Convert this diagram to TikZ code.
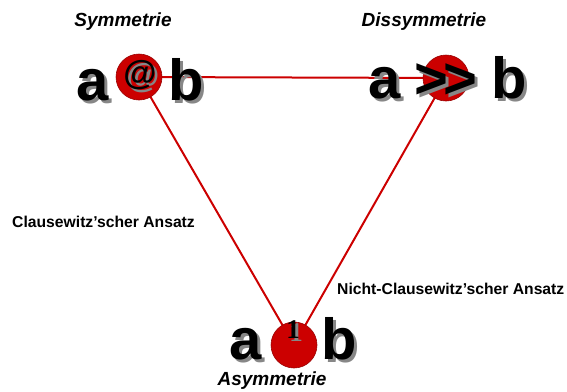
\documentclass[tikz,border=0pt]{standalone}
\usepackage{fontspec}
\setmainfont{Liberation Sans}
\newfontfamily\serifone{Liberation Serif}
\usetikzlibrary{backgrounds}

\definecolor{ballred}{RGB}{204,0,0}
\definecolor{shadowgray}{RGB}{135,135,135}
% letter with a grey drop shadow
\newcommand{\shadowed}[1]{\makebox[0pt][l]{\hspace{3pt}\raisebox{-3pt}{\textcolor{shadowgray}{#1}}}#1}

\begin{document}
\begin{tikzpicture}[x=1pt,y=-1pt,
    ball/.style={circle, fill=ballred, draw=ballred!75!black, line width=0.6pt,
      minimum size=46pt, inner sep=0pt},
    bigletter/.style={anchor=base, inner sep=0pt, font=\fontsize{58}{58}\selectfont\bfseries},
    caption/.style={inner sep=0pt, font=\fontsize{19}{19}\selectfont\bfseries\itshape},
    approach/.style={anchor=west, inner sep=0pt, font=\fontsize{15.7}{15.7}\selectfont\bfseries},
    link/.style={draw=ballred, line width=2pt}]
    \useasboundingbox (0,0) rectangle (567,391);

    % Balls
    \node[ball] (sym) at (139,77) {};
    \node[ball] (dis) at (446,78) {};
    \node[ball] (asym) at (294,345) {};

    % Connecting lines behind the balls
    \begin{scope}[on background layer]
      \draw[link] (sym.center) -- (dis.center);
      \draw[link] (sym.center) -- (asym.center);
      \draw[link] (dis.center) -- (asym.center);
    \end{scope}

    % Symmetrie: a @ b
    \node[bigletter] (syma) at (93,100) {\shadowed{a}};
    \node[bigletter] (symb) at (186,100) {\shadowed{b}};
    \node[inner sep=0pt, font=\fontsize{34}{34}\selectfont\bfseries] (symop) at (140,77) {\shadowed{@}};

    % Dissymmetrie: a >> b
    \node[bigletter] (disa) at (385,98) {\shadowed{a}};
    \node[bigletter] (disop) at (446,98) {\shadowed{>\kern-5pt>}};
    \node[bigletter] (disb) at (509,98) {\shadowed{b}};

    % Asymmetrie: a 1 b
    \node[bigletter] (asyma) at (246,359) {\shadowed{a}};
    \node[bigletter] (asymb) at (339,359) {\shadowed{b}};
    \node[anchor=base, inner sep=0pt, font=\serifone\fontsize{27}{27}\selectfont\bfseries] (asymop) at (293,338) {\shadowed{1}};

    % Captions
    \node[caption] (symcap) at (123,22) {Symmetrie};
    \node[caption] (discap) at (424,22) {Dissymmetrie};
    \node[caption] (asymcap) at (272,381) {Asymmetrie};

    % Approaches
    \node[approach] (claus) at (12,222) {Clausewitz’scher Ansatz};
    \node[approach] (nclaus) at (337,289) {Nicht-Clausewitz’scher Ansatz};
  \end{tikzpicture}
\end{document}
